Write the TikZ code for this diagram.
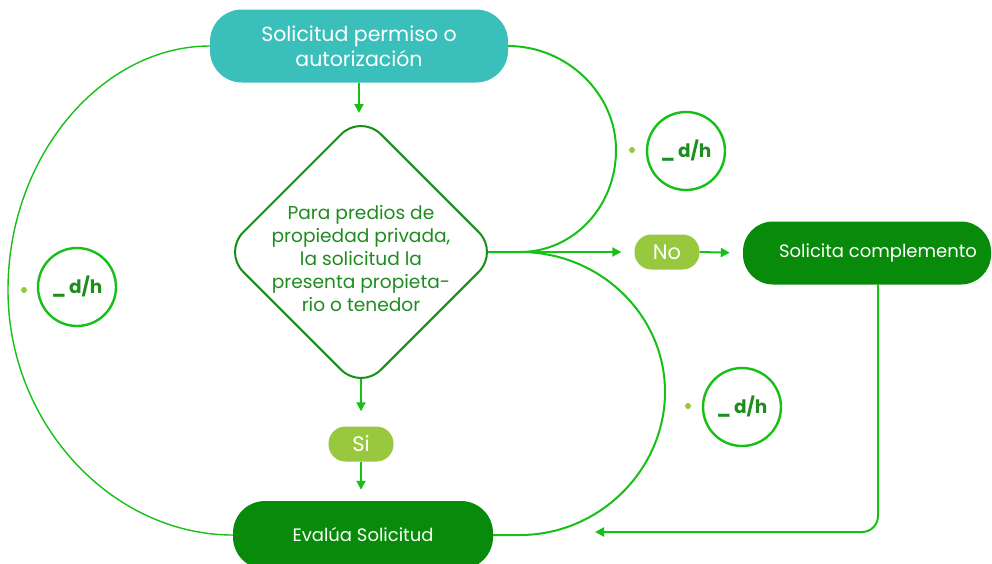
\documentclass[tikz,border=0pt]{standalone}
\usepackage{fontspec}
\setmainfont{Poppins}
\usetikzlibrary{shapes.geometric,arrows.meta,backgrounds,calc}
\definecolor{tealc}{HTML}{3BBFBB}
\definecolor{dkg}{HTML}{088A0A}
\definecolor{ltg}{HTML}{97C83E}
\definecolor{cgreen}{HTML}{16C016}
\definecolor{dtext}{HTML}{1E8C1E}
\definecolor{dborder}{HTML}{168F16}
\begin{document}
\begin{tikzpicture}[x=1pt,y=-1pt,
  conn/.style={draw=cgreen,line width=2pt},
  arr/.style={conn,-{Triangle[length=9pt,width=9pt]}},
  boxw/.style={text=white,inner sep=0pt,align=center},
  bigfont/.style={font=\fontsize{20.5}{25}\selectfont},
  pillfont/.style={font=\fontsize{21}{24}\selectfont},
  midfont/.style={font=\fontsize{18}{22}\selectfont},
  dhcircle/.style={circle,draw=cgreen,line width=2.4pt,minimum size=78pt,inner sep=0pt,
    text=dtext,font=\bfseries\fontsize{18.5}{20}\selectfont},
  dotn/.style={circle,fill=ltg,minimum size=6pt,inner sep=0pt}]
\useasboundingbox (0,0) rectangle (992,563);

\node[boxw,bigfont,fill=tealc,rounded corners=32pt,minimum width=298pt,minimum height=73pt] (top) at (359,46) {Solicitud permiso o\\autorización};

\node[diamond,draw=dborder,line width=2pt,rounded corners=28pt,minimum width=276pt,minimum height=276pt,inner sep=0pt,fill=white] (d) at (361,252) {};
\node[text=dtext,font=\fontsize{18.6}{23}\selectfont,align=center] (dt) at ([yshift=-6pt]d.center) {Para predios de\\propiedad privada,\\la solicitud la\\presenta propieta-\\rio o tenedor};

\node[boxw,pillfont,fill=ltg,rounded corners=17pt,minimum width=65pt,minimum height=35pt] (si) at (361,444) {Si};
\node[boxw,pillfont,fill=ltg,rounded corners=17pt,minimum width=65pt,minimum height=35pt] (no) at (667,252) {No};

\node[boxw,midfont,fill=dkg,rounded corners=32pt,minimum width=260pt,minimum height=68pt] (eval) at (363,535) {Evalúa Solicitud};
\node[boxw,midfont,fill=dkg,rounded corners=30pt,minimum width=248pt,minimum height=63pt] (sol) at (867,253) {\hspace*{22pt}Solicita complemento};

\node[dhcircle] (c1) at (686,151) {\_\,d/h};
\node[dhcircle] (c2) at (77,287) {\_\,d/h};
\node[dhcircle] (c3) at (742,407) {\_\,d/h};
\node[dotn] (p1) at (632,150) {};
\node[dotn] (p2) at (24,290) {};
\node[dotn] (p3) at (688,406) {};

\coordinate (ein) at (595,532);

\begin{scope}[on background layer]
\draw[conn,line width=1.4pt] (top.west) .. controls +(-107,0) and +(0,-135) .. (8,290)
  .. controls +(0,135) and +(-120,0) .. (eval.west);
\draw[conn] (top.east) .. controls +(58,0) and +(0,-57) .. (616,150)
  .. controls +(0,57) and +(53,0) .. (520,252) -- ([xshift=-12pt]d.east);
\draw[conn] ([xshift=-12pt]d.east) -- (520,252) .. controls +(80,0) and +(0,-77) .. (665,392)
  .. controls +(0,77) and +(80,0) .. (520,535) -- (eval.east);
\draw[arr] (top.south) -- (top.south |- d.north);
\draw[arr,shorten >=15pt] ([yshift=12pt]d.south) -- (si.north);
\draw[arr,shorten >=11pt] (si.south) -- (si.south |- eval.north);
\draw[arr,shorten >=13pt] ([xshift=-12pt]d.east) -- (no.west);
\draw[arr,shorten >=13pt] (no.east) -- (sol.west);
\draw[arr,rounded corners=16pt] ([xshift=11pt]sol.south) |- (ein);
\end{scope}
\end{tikzpicture}
\end{document}
